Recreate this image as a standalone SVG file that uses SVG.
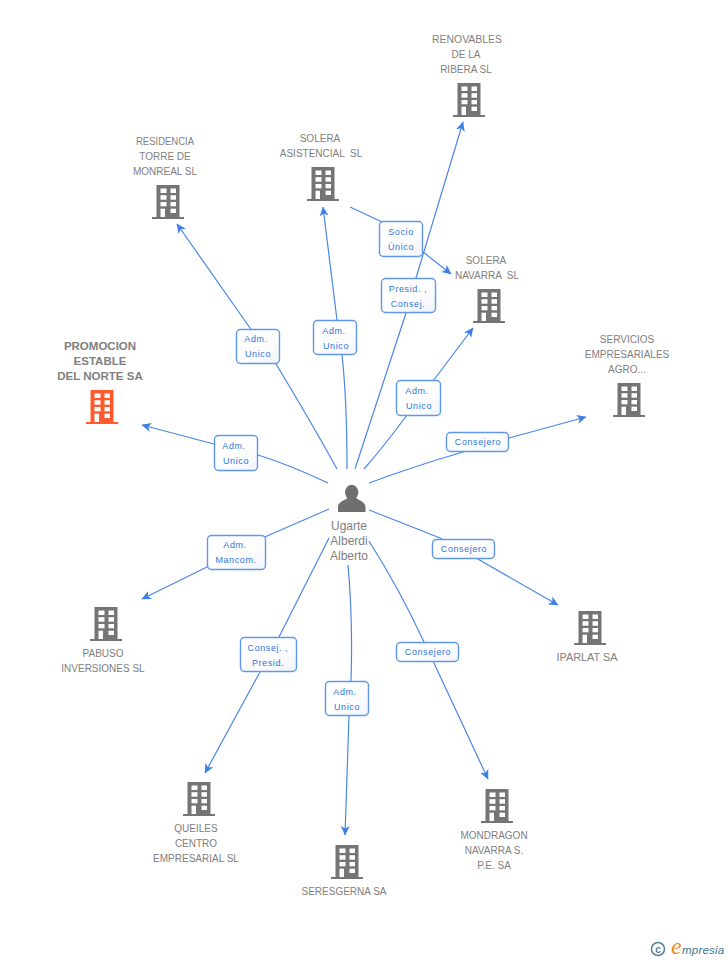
<svg xmlns="http://www.w3.org/2000/svg" width="728" height="960" viewBox="0 0 728 960">
<style>
text{font-family:"Liberation Sans",Arial,sans-serif}
.n{font-size:10px;fill:#808080;text-anchor:middle}
.p{font-size:12px;fill:#808080;text-anchor:middle}
.b{font-weight:bold;font-size:11.500px;fill:#808080;text-anchor:middle}
.e{fill:none;stroke:#4a86e8;stroke-width:1.200}
.l{fill:url(#g);stroke:#5f98ea;stroke-width:1.400}
.t{font-size:9px;letter-spacing:.6px;fill:#2f76dc;text-anchor:middle}
</style>
<defs>
<linearGradient id="g" x1="0" y1="0" x2="1" y2="1"><stop offset="0.500" stop-color="#fff"/><stop offset="1" stop-color="#f1f4f9"/></linearGradient>
<marker id="a" markerWidth="12" markerHeight="12" refX="9" refY="5" orient="auto" markerUnits="userSpaceOnUse"><path d="M0 0.500L9.500 5L0 9.500L2.500 5Z" fill="#3d80e6"/></marker>
<g id="bld"><path d="M-11.500 -17H11.500V15H16V17H-16V15H-11.500Z" fill="currentColor"/><g fill="#fff"><rect x="-7.500" y="-13.500" width="6" height="4.500"/><rect x="2.500" y="-13.500" width="5.500" height="4.500"/><rect x="-7.500" y="-6.800" width="6" height="4.500"/><rect x="2.500" y="-6.800" width="5.500" height="4.500"/><rect x="-7.500" y="0" width="6" height="4.300"/><rect x="2.500" y="0" width="5.500" height="4.300"/><rect x="-7.500" y="6.700" width="4.500" height="8.300"/><rect x="2.500" y="6.700" width="5.500" height="4.300"/></g></g>
</defs>
<g id="connectors">
<path class="e" marker-end="url(#a)" d="M328 483Q290 465 258 455L214 444L142 425"/>
<path class="e" marker-end="url(#a)" d="M337 469Q310 420 276 364L250 328L177 224"/>
<path class="e" marker-end="url(#a)" d="M347 469Q347 400 342 355L337 320L323 207"/>
<path class="e" marker-end="url(#a)" d="M355 469L406 313L416 278L463 122"/>
<path class="e" marker-end="url(#a)" d="M350 207L380 221L423 252L451 274"/>
<path class="e" marker-end="url(#a)" d="M364 469Q385 445 407 415L433 381L473 328"/>
<path class="e" marker-end="url(#a)" d="M369 483Q415 466 463 452L509 438L586 417"/>
<path class="e" marker-end="url(#a)" d="M369 510L420 530Q432 535 440 538L476 558L558 605"/>
<path class="e" marker-end="url(#a)" d="M369 541Q400 590 424 642L433 661L488 779"/>
<path class="e" marker-end="url(#a)" d="M348 565Q353 620 351 681L349 716L345 835"/>
<path class="e" marker-end="url(#a)" d="M329 538L279 637L260 672L205 773"/>
<path class="e" marker-end="url(#a)" d="M329 509L267 536L207 567L142 599"/>
</g>
<g id="labels">
<rect class="l" x="214.500" y="435.500" width="43" height="35" rx="4"/><text class="t" x="234" y="449">Adm.</text><text class="t" x="236" y="464">Unico</text>
<rect class="l" x="236.500" y="329.500" width="43" height="34" rx="4"/><text class="t" x="256" y="342">Adm.</text><text class="t" x="258" y="357">Unico</text>
<rect class="l" x="313.500" y="320.500" width="43" height="34" rx="4"/><text class="t" x="334" y="334">Adm.</text><text class="t" x="336" y="349">Unico</text>
<rect class="l" x="379.500" y="221.500" width="43" height="35" rx="4"/><text class="t" x="401" y="235">Socio</text><text class="t" x="401" y="250">Único</text>
<rect class="l" x="381.500" y="278.500" width="54" height="34" rx="4"/><text class="t" x="408" y="292">Presid. ,</text><text class="t" x="408" y="307">Consej.</text>
<rect class="l" x="396.500" y="380.500" width="44" height="35" rx="4"/><text class="t" x="417" y="394">Adm.</text><text class="t" x="419" y="409">Unico</text>
<rect class="l" x="446.500" y="432.500" width="62" height="19" rx="4"/><text class="t" x="478" y="445">Consejero</text>
<rect class="l" x="432.500" y="539.500" width="62" height="19" rx="4"/><text class="t" x="464" y="552">Consejero</text>
<rect class="l" x="396.500" y="642.500" width="62" height="19" rx="4"/><text class="t" x="428" y="655">Consejero</text>
<rect class="l" x="325.500" y="681.500" width="43" height="34" rx="4"/><text class="t" x="345" y="695">Adm.</text><text class="t" x="347" y="710">Unico</text>
<rect class="l" x="240.500" y="637.500" width="56" height="34" rx="4"/><text class="t" x="268" y="651">Consej. ,</text><text class="t" x="268" y="666">Presid.</text>
<rect class="l" x="207.500" y="535.500" width="58" height="34" rx="4"/><text class="t" x="235" y="548">Adm.</text><text class="t" x="236" y="563">Mancom.</text>
</g>
<g id="n-person"><ellipse cx="351.700" cy="492.500" rx="6.600" ry="7.800" fill="#6f6f6f"/><path fill="#6f6f6f" d="M338 512V507C338 502 343 501 348 498H356C360 501 365.500 502 365.500 507V512Z"/><text class="p" x="349" y="530">Ugarte</text><text class="p" x="349" y="545">Alberdi</text><text class="p" x="349" y="560">Alberto</text></g>
<g id="n-promocion" color="#ff5a2e"><use href="#bld" x="102" y="407"/><text class="b" x="100" y="350">PROMOCION</text><text class="b" x="100" y="365">ESTABLE</text><text class="b" x="100" y="380">DEL NORTE SA</text></g>
<g id="n-residencia" color="#757575"><use href="#bld" x="168" y="202"/><text class="n" x="165" y="145" textLength="58" lengthAdjust="spacingAndGlyphs">RESIDENCIA</text><text class="n" x="165" y="160">TORRE DE</text><text class="n" x="165" y="175">MONREAL SL</text></g>
<g id="n-asistencial" color="#757575"><use href="#bld" x="323" y="184"/><text class="n" x="320" y="142">SOLERA</text><text class="n" x="321" y="157" xml:space="preserve">ASISTENCIAL  SL</text></g>
<g id="n-renovables" color="#757575"><use href="#bld" x="469" y="100"/><text class="n" x="467" y="43" textLength="70" lengthAdjust="spacingAndGlyphs">RENOVABLES</text><text class="n" x="466" y="58">DE LA</text><text class="n" x="466" y="73">RIBERA SL</text></g>
<g id="n-navarra" color="#757575"><use href="#bld" x="489" y="306"/><text class="n" x="486" y="264">SOLERA</text><text class="n" x="487" y="279" xml:space="preserve">NAVARRA  SL</text></g>
<g id="n-servicios" color="#757575"><use href="#bld" x="629" y="400"/><text class="n" x="627" y="343">SERVICIOS</text><text class="n" x="627" y="358">EMPRESARIALES</text><text class="n" x="627" y="373">AGRO...</text></g>
<g id="n-iparlat" color="#757575"><use href="#bld" x="590" y="628"/><text class="n" x="587" y="661" textLength="61" lengthAdjust="spacingAndGlyphs">IPARLAT SA</text></g>
<g id="n-mondragon" color="#757575"><use href="#bld" x="497" y="806"/><text class="n" x="494" y="839">MONDRAGON</text><text class="n" x="494" y="854">NAVARRA S.</text><text class="n" x="494" y="869">P.E. SA</text></g>
<g id="n-seresgerna" color="#757575"><use href="#bld" x="347" y="862"/><text class="n" x="344" y="895">SERESGERNA SA</text></g>
<g id="n-queiles" color="#757575"><use href="#bld" x="199" y="799"/><text class="n" x="196" y="832">QUEILES</text><text class="n" x="196" y="847">CENTRO</text><text class="n" x="196" y="862">EMPRESARIAL SL</text></g>
<g id="n-pabuso" color="#757575"><use href="#bld" x="106" y="624"/><text class="n" x="103" y="657">PABUSO</text><text class="n" x="103" y="672">INVERSIONES SL</text></g>
<g id="watermark"><circle cx="658" cy="949" r="6.500" fill="none" stroke="#4f8199" stroke-width="1.500"/><text x="658" y="952.500" font-size="10" font-weight="bold" fill="#4f8199" text-anchor="middle">c</text><text x="671" y="954" font-size="24" font-style="italic" fill="#f08a24" style="font-family:'Liberation Serif',serif">e</text><text x="682" y="954" font-size="11.500" font-style="italic" fill="#3f7591" letter-spacing=".2">mpresia</text></g>
</svg>
